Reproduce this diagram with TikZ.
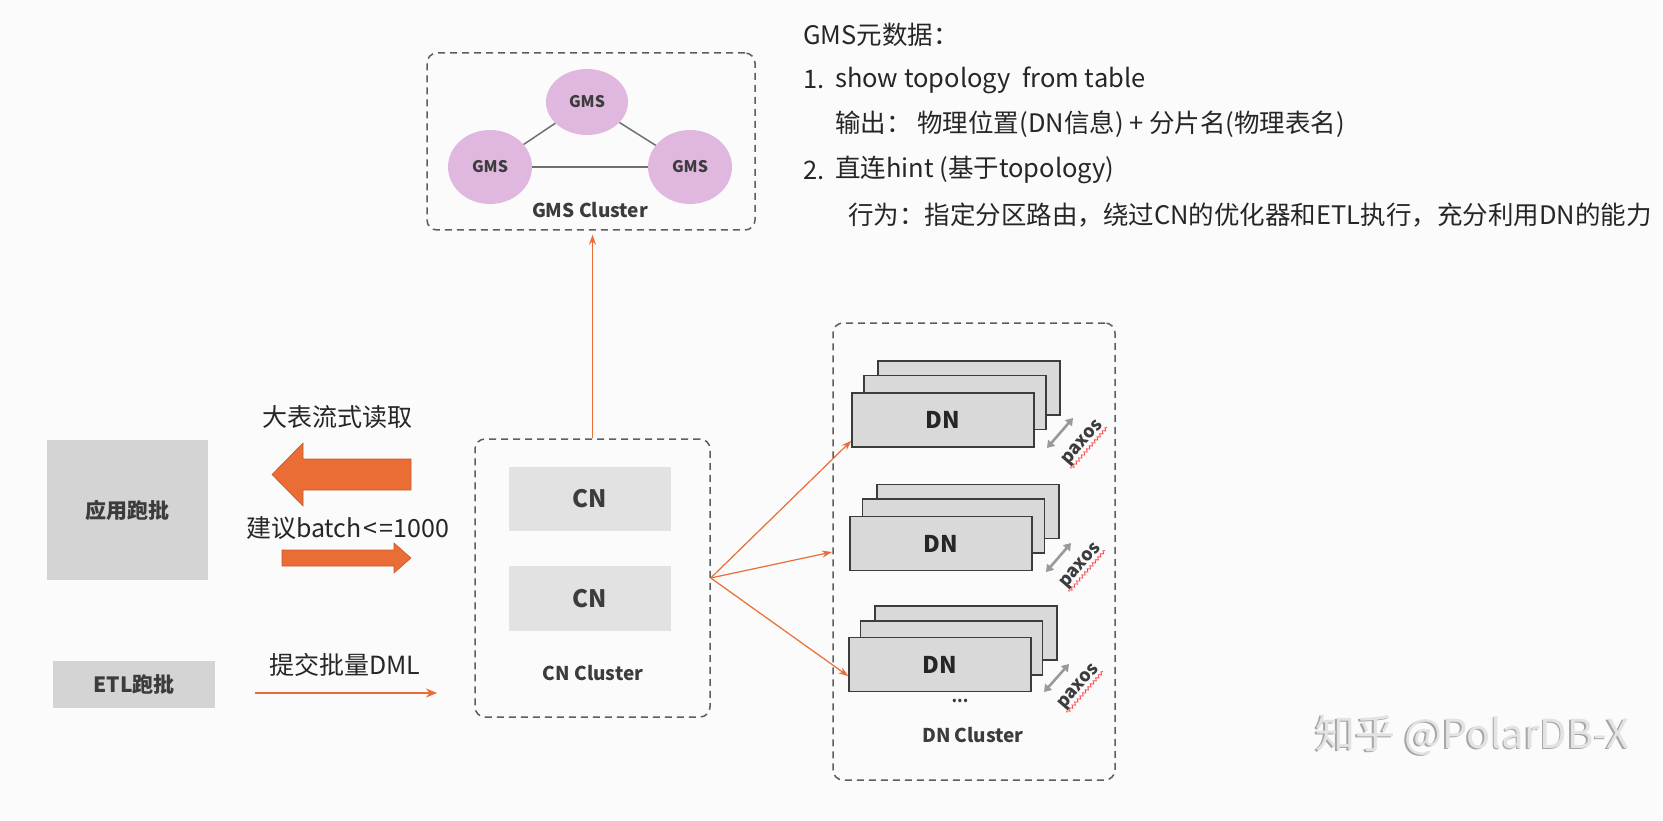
\documentclass[tikz,border=0pt]{standalone}
\usepackage{fontspec}
\setmainfont{Noto Sans CJK SC}
\usetikzlibrary{arrows.meta,decorations.pathmorphing,shapes.geometric,calc}
\definecolor{orng}{HTML}{E96D35}
\definecolor{orngdk}{HTML}{C95A28}
\definecolor{dashgray}{HTML}{5E5E5E}
\definecolor{boxgray}{HTML}{D4D4D4}
\definecolor{cngray}{HTML}{E2E2E2}
\definecolor{dngray}{HTML}{D9D9D9}
\definecolor{txt}{HTML}{3C3C3C}
\definecolor{gmsfill}{HTML}{DFB7DF}
\definecolor{linegray}{HTML}{707070}
\definecolor{bg}{HTML}{FBFBFB}
\newcommand{\fsz}[1]{\fontsize{#1}{#1}\selectfont}
\begin{document}
\begin{tikzpicture}[x=1pt,y=-1pt,
  dashbox/.style={draw=dashgray, line width=1.5pt, dash pattern=on 7pt off 5pt, rounded corners=10pt, inner sep=0pt},
  graybox/.style={fill=boxgray, draw=none, inner sep=0pt, text=txt, font=\bfseries\fsz{21}},
  cnbox/.style={fill=cngray, draw=none, inner sep=0pt, minimum width=162pt, text=txt, font=\bfseries\fsz{24}},
  dnbox/.style={fill=dngray, draw=txt, line width=1.4pt, inner sep=0pt, minimum width=182pt, minimum height=54pt, text=black!85, font=\bfseries\fsz{23}},
  gms/.style={ellipse, fill=gmsfill, draw=none, inner sep=0pt, text=txt, font=\bfseries\fsz{16}},
  lbl/.style={text=txt, font=\bfseries\fsz{19}, inner sep=0pt},
  note/.style={text=black!85, font=\fsz{25.5}, inner sep=0pt, anchor=west},
  captxt/.style={text=black!85, font=\fsz{25}, inner sep=0pt},
  oarrow/.style={draw=orng, line width=1.2pt, -{Stealth[length=10pt,width=7pt]}},
  paxarrow/.style={draw=gray!80, line width=2.6pt, {Triangle[length=7pt,width=9pt]}-{Triangle[length=7pt,width=9pt]}},
  paxos/.style={rotate=49, text=txt, font=\bfseries\fsz{18}, inner sep=0.5pt},
  wavy/.style={draw=red!75, line width=0.8pt, decorate, decoration={snake, amplitude=1.3pt, segment length=4pt}}
]
\useasboundingbox (0,0) rectangle (1663,821);
\fill[bg] (0,0) rectangle (1663,821);

% ---------- GMS cluster ----------
\node[dashbox, minimum width=328pt, minimum height=177pt] (gmsc) at (591,141.5) {};
\node[gms, minimum width=82pt, minimum height=66pt] (g1) at (587,102) {GMS};
\node[gms, minimum width=84pt, minimum height=74pt] (g2) at (490,167) {GMS};
\node[gms, minimum width=84pt, minimum height=74pt] (g3) at (690,167) {GMS};
\draw[linegray, line width=1.5pt] (g1) -- (g2);
\draw[linegray, line width=1.5pt] (g1) -- (g3);
\draw[linegray, line width=1.5pt] (g2) -- (g3);
\node[lbl, font=\bfseries\fsz{19}] (gmslbl) at (590,210) {GMS Cluster};

% ---------- notes ----------
\node[note] (n0) at (803,35) {GMS元数据：};
\node[note] (n1a) at (803,80) {1.};
\node[note] (n1) at (835,80) {show topology\ \ from table};
\node[note] (n2) at (835,124) {输出：\ 物理位置(DN信息) + 分片名(物理表名)};
\node[note] (n3a) at (803,170) {2.};
\node[note] (n3) at (835,170) {直连hint (基于topology)};
\node[note] (n4) at (848,215) {行为：指定分区路由，绕过CN的优化器和ETL执行，充分利用DN的能力};

% ---------- left side ----------
\node[graybox, minimum width=161pt, minimum height=140pt] (app) at (127.5,510) {应用跑批};
\node[graybox, minimum width=162pt, minimum height=47pt] (etl) at (134,684.5) {ETL跑批};

\node[captxt] (t1) at (337.5,417) {大表流式读取};
\node[captxt] (t2) at (347.5,528) {建议batch\kern2pt<\kern2pt=1000};
\node[captxt] (t3) at (345,665) {提交批量DML};

\filldraw[fill=orng, draw=orngdk, line width=0.6pt]
  (272,474.5) -- (303,443) -- (303,459) -- (411,459) -- (411,490) -- (303,490) -- (303,506) -- cycle;
\filldraw[fill=orng, draw=orngdk, line width=0.6pt]
  (411,558) -- (394,543) -- (394,550) -- (282,550) -- (282,566) -- (394,566) -- (394,573) -- cycle;

% ---------- CN cluster ----------
\node[dashbox, minimum width=235pt, minimum height=278pt] (cnc) at (592.5,578) {};
\node[cnbox, minimum height=64pt] (cn1) at (590,499) {CN};
\node[cnbox, minimum height=65pt] (cn2) at (590,598.5) {CN};
\node[lbl] (cnlbl) at (593,673) {CN Cluster};

\coordinate (etlend) at (437,693);
\draw[orng, line width=2.6pt, -{Stealth[length=11pt,width=9pt]}] (255,693) -- (etlend);

\draw[oarrow] (cnc.north) -- ($(cnc.north |- gmsc.south)+(0,4)$);

% ---------- DN cluster ----------
\node[dashbox, minimum width=282pt, minimum height=457pt] (dnc) at (974,551.5) {};

\node[dnbox] (dn1c) at (969,388) {};
\node[dnbox] (dn1b) at (955,402.5) {};
\node[dnbox] (dn1) at (943,420) {DN};
\node[dnbox] (dn2c) at (968,511.5) {};
\node[dnbox] (dn2b) at (953.5,526) {};
\node[dnbox] (dn2) at (941,543.5) {DN};
\node[dnbox] (dn3c) at (966,633) {};
\node[dnbox] (dn3b) at (951.5,648) {};
\node[dnbox] (dn3) at (940,664.5) {DN};

\node[lbl, font=\bfseries\fsz{16}] (dots) at (960,701) {...};
\node[lbl] (dnlbl) at (973,735) {DN Cluster};

\coordinate (mid) at (832,552);
\draw[oarrow] (cnc.east) -- ($(dn1.west)!0.75!(dn1.south west)$);
\draw[oarrow] (cnc.east) -- (mid);
\draw[oarrow] (cnc.east) -- ($(dn3.west)!0.42!(dn3.south west)$);

% paxos
\coordinate (p1a) at (1047,448); \coordinate (p1b) at (1073,418);
\coordinate (p2a) at (1046,572); \coordinate (p2b) at (1071,543);
\coordinate (p3a) at (1044,692); \coordinate (p3b) at (1069,664);
\draw[paxarrow] (p1a) -- (p1b);
\draw[paxarrow] (p2a) -- (p2b);
\draw[paxarrow] (p3a) -- (p3b);
\node[paxos] (px1) at (1083,443) {paxos};
\node[paxos] (px2) at (1081,566) {paxos};
\node[paxos] (px3) at (1079,687) {paxos};
\draw[wavy] (px1.south west) -- (px1.south east);
\draw[wavy] (px2.south west) -- (px2.south east);
\draw[wavy] (px3.south west) -- (px3.south east);

% ---------- watermark ----------
\node[anchor=west, inner sep=0pt, text=gray!70, font=\fsz{40}] (wm0) at (1313.5,736.5) {知乎 @PolarDB-X};
\node[anchor=west, inner sep=0pt, text=gray!22, font=\fsz{40}] (wm) at (1315,735) {知乎 @PolarDB-X};
\end{tikzpicture}
\end{document}
